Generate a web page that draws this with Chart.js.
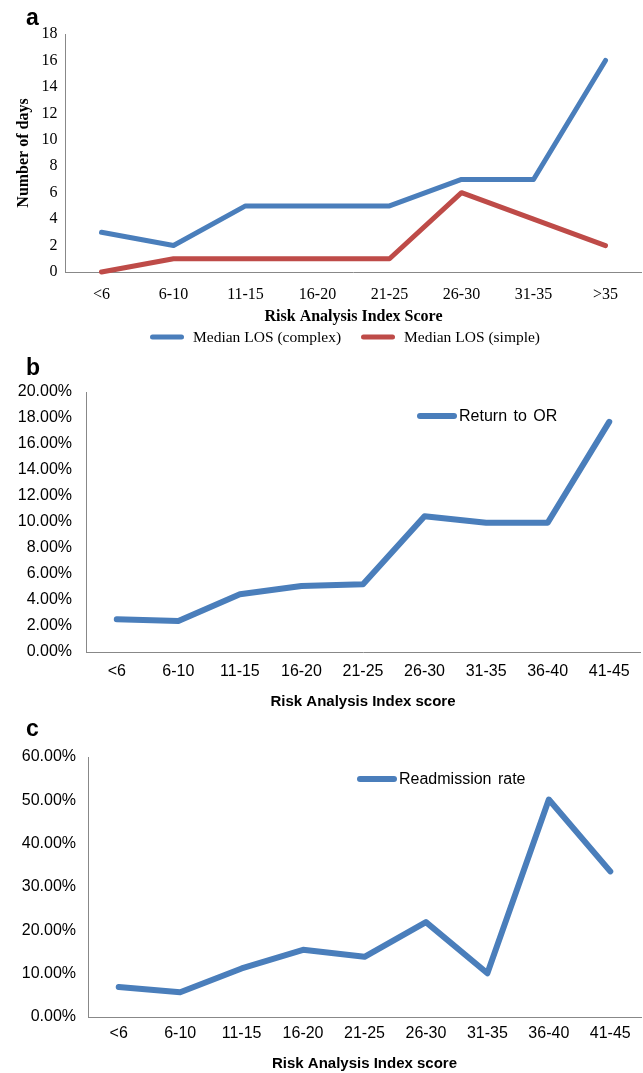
<!DOCTYPE html>
<html>
<head>
<meta charset="utf-8">
<script src="https://cdn.jsdelivr.net/npm/chart.js@4/dist/chart.umd.min.js"></script>
<style>
  html, body { margin: 0; padding: 0; background: #fff; }
  body { width: 643px; height: 1073px; position: relative; overflow: hidden; }
  .panel { position: absolute; left: 0; width: 643px; }
  .letter { position: absolute; left: 26px; font: bold 23px "Liberation Sans", Arial, sans-serif; line-height: 23px; color: #000; }
</style>
</head>
<body>
<div class="panel" style="top:0;height:356px"><canvas id="chartA" width="643" height="356"></canvas></div>
<div class="panel" style="top:356px;height:356px"><canvas id="chartB" width="643" height="356"></canvas></div>
<div class="panel" style="top:712px;height:361px"><canvas id="chartC" width="643" height="361"></canvas></div>
<div class="letter" style="top:6px">a</div>
<div class="letter" style="top:356px">b</div>
<div class="letter" style="top:717px">c</div>
<script>
// ---- data ----
const categoriesA = ['<6', '6-10', '11-15', '16-20', '21-25', '26-30', '31-35', '>35'];
const losComplex = [3, 2, 5, 5, 5, 7, 7, 16];
const losSimple = [0, 1, 1, 1, 1, 6, 4, 2];

const categoriesBC = ['<6', '6-10', '11-15', '16-20', '21-25', '26-30', '31-35', '36-40', '41-45'];
const returnToOR = [2.52, 2.38, 4.44, 5.08, 5.21, 10.45, 9.94, 9.94, 17.7];      // percent
const readmissionRate = [6.9, 5.7, 11.2, 15.5, 13.9, 21.9, 10.1, 50.2, 33.6];   // percent

const labelA = ['Median LOS (complex)', 'Median LOS (simple)'];
const labelB = 'Return to OR';
const labelC = 'Readmission rate';
const xTitleA = 'Risk Analysis Index Score';
const yTitleA = 'Number of days';
const xTitleBC = 'Risk Analysis Index score';

// ---- styles ----
const BLUE = '#4a7ebb';
const RED = '#be4b48';
const AXIS = '#888888';
const SERIF = '"Liberation Serif", "Times New Roman", serif';
const SANS = '"Liberation Sans", Arial, sans-serif';

Chart.defaults.devicePixelRatio = 1;
Chart.defaults.color = '#000';

function lineStyle(width) {
  return {
    borderWidth: width,
    pointRadius: 0,
    pointHoverRadius: 0,
    tension: 0,
    borderCapStyle: 'round',
    borderJoinStyle: 'round',
    clip: false,
    fill: false
  };
}

// Legend drawn from the datasets (label + colour), placed like the original figure
const placedLegend = {
  id: 'placedLegend',
  afterDatasetsDraw(chart, args, opts) {
    if (!opts || !opts.items) return;
    const ctx = chart.ctx;
    ctx.save();
    opts.items.forEach((it, i) => {
      const ds = chart.data.datasets[i];
      ctx.strokeStyle = ds.borderColor;
      ctx.lineWidth = opts.lineWidth;
      ctx.lineCap = 'round';
      ctx.beginPath();
      ctx.moveTo(it.x, it.y);
      ctx.lineTo(it.x + it.w, it.y);
      ctx.stroke();
      ctx.fillStyle = '#000';
      ctx.font = opts.font;
      try { ctx.wordSpacing = opts.wordSpacing || '0px'; } catch (e) {}
      ctx.textBaseline = 'middle';
      ctx.textAlign = 'left';
      ctx.fillText(ds.label, it.tx, it.y + 1);
    });
    ctx.restore();
  }
};

function fixedWidth(w) { return (scale) => { scale.width = w; }; }
function fixedHeight(h) { return (scale) => { scale.height = h; }; }

// ---- Chart a ----
new Chart(document.getElementById('chartA'), {
  type: 'line',
  data: {
    labels: categoriesA,
    datasets: [
      Object.assign({ label: labelA[0], data: losComplex, borderColor: BLUE, backgroundColor: BLUE }, lineStyle(5)),
      Object.assign({ label: labelA[1], data: losSimple, borderColor: RED, backgroundColor: RED }, lineStyle(5))
    ]
  },
  options: {
    responsive: false,
    animation: false,
    layout: { padding: { top: 34, left: 0, right: 1.5, bottom: 30 } },
    plugins: {
      tooltip: { enabled: false },
      legend: { display: false },
      placedLegend: {
        lineWidth: 5,
        font: '15.5px ' + SERIF,
        items: [
          { x: 152.5, y: 337, w: 29, tx: 193 },
          { x: 363.5, y: 337, w: 29, tx: 404 }
        ]
      }
    },
    scales: {
      x: {
        offset: true,
        grid: { display: false, drawTicks: false },
        border: { display: true, color: AXIS, width: 1 },
        ticks: { font: { family: SERIF, size: 16 }, color: '#000', padding: 13, maxRotation: 0, autoSkip: false },
        title: { display: true, text: xTitleA, font: { family: SERIF, size: 16, weight: 'bold' }, color: '#000', padding: 0 },
        afterFit: fixedHeight(54)
      },
      y: {
        min: 0, max: 18,
        grid: { display: false, drawTicks: false },
        border: { display: true, color: AXIS, width: 1 },
        ticks: { stepSize: 2, font: { family: SERIF, size: 16 }, color: '#000', padding: 8 },
        title: { display: true, text: yTitleA, font: { family: SERIF, size: 16, weight: 'bold' }, color: '#000', padding: { top: 14, bottom: 0 } },
        afterFit: fixedWidth(65.5)
      }
    }
  },
  plugins: [placedLegend]
});

// ---- Chart b & c ----
function pctChart(id, labels, values, label, yMax, yStep, pad, yWidth, yPad, xPad, xHeight, legendItem) {
  return new Chart(document.getElementById(id), {
    type: 'line',
    data: {
      labels: labels,
      datasets: [Object.assign({ label: label, data: values, borderColor: BLUE, backgroundColor: BLUE }, lineStyle(6))]
    },
    options: {
      responsive: false,
      animation: false,
      layout: { padding: pad },
      plugins: {
        tooltip: { enabled: false },
        legend: { display: false },
        placedLegend: { lineWidth: 6, font: '16px ' + SANS, wordSpacing: '2px', items: [legendItem] }
      },
      scales: {
        x: {
          offset: true,
          grid: { display: false, drawTicks: false },
          border: { display: true, color: AXIS, width: 1 },
          ticks: { font: { family: SANS, size: 16 }, color: '#000', padding: xPad, maxRotation: 0, autoSkip: false },
          title: { display: true, text: xTitleBC, font: { family: SANS, size: 15, weight: 'bold' }, color: '#000', padding: 0 },
          afterFit: fixedHeight(xHeight)
        },
        y: {
          min: 0, max: yMax,
          grid: { display: false, drawTicks: false },
          border: { display: true, color: AXIS, width: 1 },
          ticks: {
            stepSize: yStep, font: { family: SANS, size: 16 }, color: '#000', padding: yPad,
            callback: (v) => Number(v).toFixed(2) + '%'
          },
          afterFit: fixedWidth(yWidth)
        }
      }
    },
    plugins: [placedLegend]
  });
}

pctChart('chartB', categoriesBC, returnToOR, labelB, 20, 2,
  { top: 36, left: 0, right: 3, bottom: 1 }, 86, 14, 10, 59,
  { x: 420, y: 60, w: 34, tx: 459 });

pctChart('chartC', categoriesBC, readmissionRate, labelC, 60, 10,
  { top: 45, left: 0, right: 2, bottom: 0 }, 88, 12, 7, 56,
  { x: 360, y: 67, w: 34, tx: 399 });
</script>
</body>
</html>
